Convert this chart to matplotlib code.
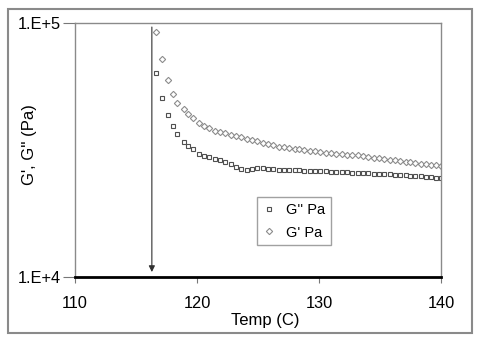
import matplotlib
matplotlib.use("Agg")
import matplotlib.pyplot as plt
from matplotlib.patches import Rectangle
from matplotlib.ticker import FixedLocator, NullLocator

plt.rcParams['font.family'] = ['Liberation Sans', 'DejaVu Sans']

# temperature sweep (C)
temp = [116.6, 117.1, 117.6, 118.0, 118.4, 118.9, 119.3, 119.7, 120.2, 120.6,
        121.0, 121.5, 121.9, 122.3, 122.8, 123.2, 123.6, 124.1, 124.5, 124.9,
        125.4, 125.8, 126.2, 126.7, 127.1, 127.5, 128.0, 128.4, 128.8, 129.3,
        129.7, 130.1, 130.6, 131.0, 131.4, 131.9, 132.3, 132.7, 133.2, 133.6,
        134.0, 134.5, 134.9, 135.3, 135.8, 136.2, 136.6, 137.1, 137.5, 137.9,
        138.4, 138.8, 139.2, 139.6, 140.0]

# storage modulus G' (Pa)
g_prime = [91800, 72400, 59600, 52500, 48400, 46000, 43650, 42300, 40450, 39350,
           38460, 37670, 37150, 36730, 36220, 35890, 35560, 35080, 34670, 34280,
           33730, 33270, 32960, 32580, 32360, 32210, 31990, 31840, 31620, 31410,
           31260, 31120, 30900, 30760, 30620, 30480, 30340, 30270, 30130, 29920,
           29720, 29510, 29310, 29170, 28970, 28770, 28640, 28440, 28310, 28120,
           27920, 27730, 27610, 27480, 27350]

# loss modulus G'' (Pa)
g_double = [63830, 50470, 43450, 39450, 36480, 34120, 32730, 31840, 30480, 30060,
            29650, 29240, 28840, 28310, 27730, 27160, 26610, 26420, 26730, 26850,
            26790, 26730, 26610, 26420, 26360, 26360, 26300, 26300, 26240, 26180,
            26180, 26120, 26060, 26000, 25940, 25880, 25820, 25760, 25700, 25640,
            25590, 25530, 25470, 25410, 25350, 25290, 25230, 25120, 25060, 24950,
            24890, 24770, 24720, 24600, 24550]

# gel point marker
gel_temp = 116.3
arrow_top = 96400
arrow_tip = 10460

fig = plt.figure(figsize=(4.81, 3.4), dpi=100)
fig.patches.append(Rectangle((8 / 481, 7 / 340), 464 / 481, 324 / 340,
                             transform=fig.transFigure, fill=False,
                             edgecolor='#8a8a8a', linewidth=1.5))

ax = fig.add_axes([75 / 481, 63 / 340, 366 / 481, 254 / 340])
ax.set_yscale('log')
ax.set_xlim(110, 140)
ax.set_ylim(1e4, 1e5)

ax.plot(temp, g_double, linestyle='none', marker='s', markersize=3.4,
        markerfacecolor='white', markeredgecolor='#505050',
        markeredgewidth=0.8, label="G'' Pa")
ax.plot(temp, g_prime, linestyle='none', marker='D', markersize=3.2,
        markerfacecolor='white', markeredgecolor='#8c8c8c',
        markeredgewidth=0.8, label="G' Pa")

ax.annotate('', xy=(gel_temp, arrow_tip), xytext=(gel_temp, arrow_top),
            arrowprops=dict(arrowstyle='-|>', color='#303030', lw=0.8,
                            mutation_scale=9, shrinkA=0, shrinkB=0))

ax.yaxis.set_major_locator(FixedLocator([1e4, 1e5]))
ax.yaxis.set_minor_locator(NullLocator())
ax.set_yticklabels(['1.E+4', '1.E+5'])
ax.set_xticks([110, 120, 130, 140])
ax.tick_params(axis='y', length=9, width=0.8, color='#777777',
               labelsize=11.8, pad=1)
ax.tick_params(axis='x', length=4, width=0.8, color='#777777',
               labelsize=11.8, pad=10)

for side in ['left', 'top', 'right']:
    ax.spines[side].set_color('#8a8a8a')
    ax.spines[side].set_linewidth(1.0)
ax.spines['bottom'].set_color('black')
ax.spines['bottom'].set_linewidth(2.0)

ax.set_xlabel('Temp (C)', fontsize=12)
ax.set_ylabel("G', G'' (Pa)", fontsize=12)
ax.xaxis.set_label_coords(0.52, -0.14)
ax.yaxis.set_label_coords(-0.104, 0.52)

leg = ax.legend(loc='upper left', bbox_to_anchor=(0.497, 0.315),
                fontsize=10.5, frameon=True, fancybox=False,
                handlelength=0.8, handletextpad=0.8, borderpad=0.4,
                labelspacing=0.6, borderaxespad=0)
leg.get_frame().set_edgecolor('#8a8a8a')
leg.get_frame().set_linewidth(1.0)

fig.savefig('out.png', dpi=100)
